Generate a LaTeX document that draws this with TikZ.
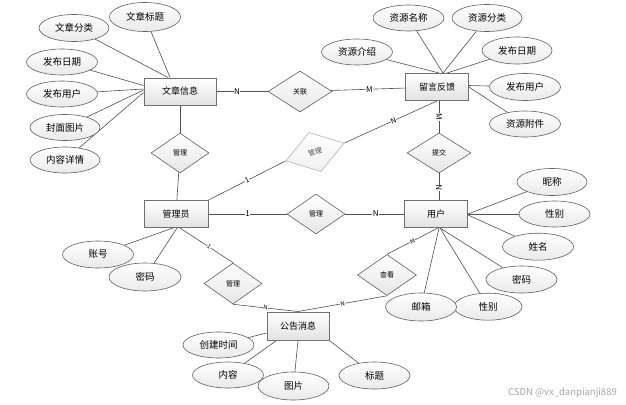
\documentclass[tikz,border=0pt]{standalone}
\usepackage{fontspec}
\setmainfont{Noto Sans CJK SC}
\usetikzlibrary{shapes.geometric,backgrounds}
\definecolor{entc}{HTML}{707070}
\definecolor{entf}{HTML}{E2E2E2}
\definecolor{attc}{HTML}{606060}
\definecolor{attf}{HTML}{EAEAEA}
\definecolor{relf}{HTML}{E6E6E6}
\definecolor{linec}{HTML}{505050}
\definecolor{ghostc}{HTML}{B4B4B4}
\definecolor{ghostf}{HTML}{F0F0F0}
\begin{document}
\begin{tikzpicture}[x=1pt,y=-1pt,
 ent/.style={rectangle,draw=entc,line width=1pt,top color=white,bottom color=entf,minimum height=27pt,inner sep=0pt,font=\fontsize{9}{10}\selectfont},
 attr/.style={ellipse,draw=attc,line width=0.6pt,top color=white,bottom color=attf,minimum width=71pt,minimum height=27pt,inner sep=0pt,font=\fontsize{9.5}{10}\selectfont},
 rel/.style={diamond,draw=attc,line width=0.6pt,top color=white,bottom color=relf,minimum width=58pt,minimum height=40pt,inner sep=0pt,font=\fontsize{7}{8}\selectfont},
 ghost/.style={diamond,draw=ghostc,line width=0.6pt,top color=white,bottom color=ghostf,minimum width=61pt,minimum height=41pt,inner sep=0pt,font=\fontsize{7}{8}\selectfont,text=black!70},
 conn/.style={draw=linec,line width=0.6pt},
 lab/.style={fill=white,inner sep=0.5pt,font=\fontsize{8}{8}\selectfont},
 slab/.style={fill=white,inner sep=0.3pt,font=\fontsize{6}{6}\selectfont,sloped},
]
\useasboundingbox (0,0) rectangle (626,404);

% entities
\node[ent,minimum width=72pt] (wz) at (180,91.5) {文章信息};
\node[ent,minimum width=63pt] (ly) at (437,87) {留言反馈};
\node[ent,minimum width=64pt] (gly) at (176,214) {管理员};
\node[ent,minimum width=63pt] (yh) at (436,214) {用户};
\node[ent,minimum width=62pt,minimum height=28pt] (gg) at (298,326) {公告消息};

% relationships
\node[rel,minimum width=64pt,minimum height=41pt] (gl) at (300,91.5) {关联};
\node[rel] (d1) at (180,153) {管理};
\node[ghost,rotate=17] (d2) at (315,152) {管理};
\node[rel,minimum width=64pt] (tj) at (439,153) {提交};
\node[rel] (d3) at (316,214) {管理};
\node[rel,minimum height=41pt] (d4) at (233,283.5) {管理};
\node[rel,minimum width=59pt,minimum height=41pt] (ck) at (387,275) {查看};

% attributes of 文章信息
\node[attr,minimum height=29pt] (e1) at (145,17) {文章标题};
\node[attr,minimum width=70pt] (e2) at (74,28) {文章分类};
\node[attr,minimum height=26pt] (e3) at (62,62) {发布日期};
\node[attr,minimum height=26pt] (e4) at (62,94) {发布用户};
\node[attr,minimum width=70pt,minimum height=26pt] (e5) at (65,127.5) {封面图片};
\node[attr,minimum width=70pt,minimum height=26pt] (e6) at (65,160) {内容详情};

% attributes of 留言反馈
\node[attr,minimum height=26pt] (r1) at (408.5,18) {资源名称};
\node[attr,minimum width=70pt] (r2) at (487,18) {资源分类};
\node[attr,minimum height=26pt] (r3) at (357,52) {资源介绍};
\node[attr,minimum width=70pt] (r4) at (517,50.5) {发布日期};
\node[attr] (r5) at (525,87) {发布用户};
\node[attr,minimum height=26pt] (r6) at (525,124) {资源附件};

% attributes of 用户
\node[attr,minimum width=70pt] (u1) at (552,182) {昵称};
\node[attr,minimum height=26pt] (u2) at (554.5,214) {性别};
\node[attr] (u3) at (538,246.7) {姓名};
\node[attr] (u4) at (521.5,279.5) {密码};
\node[attr,minimum width=68pt] (u5) at (488,306.7) {性别};
\node[attr,minimum height=28pt] (u6) at (421,307) {邮箱};

% attributes of 管理员
\node[attr] (a1) at (98,254.5) {账号};
\node[attr,minimum width=72pt,minimum height=28pt] (a2) at (145,277) {密码};

% attributes of 公告消息
\node[attr,minimum height=26pt] (g1) at (218.5,345) {创建时间};
\node[attr,minimum height=26pt] (g2) at (228,375) {内容};
\node[attr,minimum height=28pt] (g3) at (293.5,386) {图片};
\node[attr] (g4) at (374.5,375.5) {标题};

\node[text=black!35,font=\fontsize{9.5}{10}\selectfont,anchor=east,inner sep=0pt] (wm) at (617,393) {CSDN @vx\_danpianji889};

\begin{scope}[on background layer]
\fill[white] (0,0) rectangle (626,404);
% relationship connectors
\draw[conn] (wz) -- node[lab,pos=0.4]{N} (gl);
\draw[conn] (gl) -- node[lab,pos=0.52]{M} (ly);
\draw[conn] (wz) -- (d1);
\draw[conn] (d1) -- (gly);
\draw[conn] (gly.north east) -- node[slab,pos=0.5,font=\fontsize{7.5}{7.5}\selectfont]{1} (d2.west);
\draw[conn] (d2.east) -- node[slab,pos=0.53,font=\fontsize{7.5}{7.5}\selectfont]{N} (ly.south);
\draw[conn] (tj.north) -- node[lab,rotate=-90,pos=0.5]{M} (tj.north |- ly.south);
\draw[conn] (tj.south) -- node[lab,rotate=90,pos=0.55]{N} (tj.south |- yh.north);
\draw[conn] (gly) -- node[lab,pos=0.5]{1} (d3);
\draw[conn] (d3) -- node[lab,pos=0.52]{N} (yh);
\draw[conn] ([xshift=4pt]gly.south) -- node[slab,pos=0.55]{1} (d4.north);
\draw[conn] (d4.south) -- node[slab,pos=0.5]{N} (gg.north);
\draw[conn] ([xshift=2pt]yh.south) -- node[slab,pos=0.5]{M} (ck.north);
\draw[conn] (ck.south) -- node[slab,pos=0.5]{N} (gg.north);

% attribute connectors
\draw[conn] ([xshift=-10pt]wz.north) -- (e1);
\draw[conn] ([xshift=-12pt]wz.north) -- (e2);
\draw[conn] ([yshift=6pt]wz.west) -- (e3);
\draw[conn] ([yshift=2.5pt]wz.west) -- (e4);
\draw[conn] ([yshift=1.5pt]wz.west) -- (e5);
\draw[conn] ([yshift=-1pt]wz.west) -- (e6);

\draw[conn] ([xshift=6pt]ly.north) -- (r1);
\draw[conn] ([xshift=6pt]ly.north) -- (r2);
\draw[conn] ([xshift=2pt]ly.north) -- (r3);
\draw[conn] ([xshift=10pt]ly.north) -- (r4);
\draw[conn] ([yshift=1.5pt]ly.east) -- (r5);
\draw[conn] ([yshift=0pt]ly.east) -- (r6);

\draw[conn] (yh.east) -- (u1);
\draw[conn] (yh.east) -- (u2);
\draw[conn] ([yshift=-1pt]yh.east) -- (u3);
\draw[conn] ([xshift=4pt]yh.south) -- (u4);
\draw[conn] ([xshift=4pt]yh.south) -- (u5);
\draw[conn] ([xshift=3pt]yh.south) -- (u6);

\draw[conn] ([xshift=-3pt]gly.south) -- (a1);
\draw[conn] ([xshift=1pt]gly.south) -- (a2);

\draw[conn] ([yshift=-7pt]gg.west) -- (g1);
\draw[conn] ([xshift=10pt]gg.south west) -- (g2);
\draw[conn] (gg.south) -- (g3);
\draw[conn] (gg.south east) -- (g4);
\end{scope}
\end{tikzpicture}
\end{document}
